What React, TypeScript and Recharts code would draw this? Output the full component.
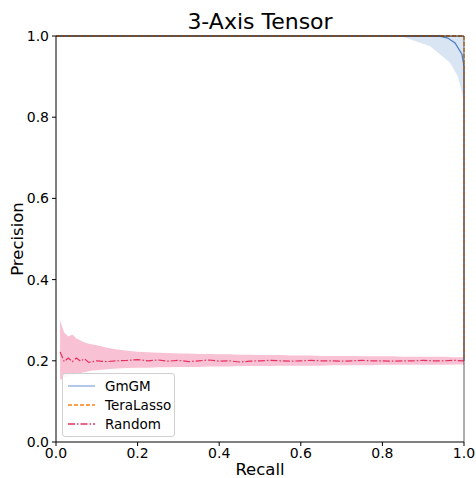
import React from 'react';
import {
  ComposedChart,
  Line,
  Area,
  XAxis,
  YAxis,
  ReferenceLine,
  Legend,
} from 'recharts';

// GmGM mean curve
const gmgmRecall = [0, 0.2, 0.4, 0.6, 0.8, 0.9, 0.94, 0.96, 0.978, 0.995, 1.0, 1.0];
const gmgmPrecision = [1, 1, 1, 1, 1, 1, 1, 0.995, 0.983, 0.955, 0.926, 0.2];
// GmGM band
const gmgmBandRecall = [0, 0.8, 0.85, 0.917, 0.966, 0.985, 0.995, 1.0];
const gmgmBandLow = [1, 1, 0.998, 0.975, 0.934, 0.9, 0.86, 0.84];
const gmgmBandHigh = [1, 1, 1, 1, 1, 1, 1, 1];

// TeraLasso
const teraRecall = [0, 1, 1];
const teraPrecision = [1, 1, 0.2];

// Random baseline
const randomRecall = [
  0.01, 0.02, 0.03, 0.04, 0.05, 0.06, 0.07, 0.08, 0.09, 0.1, 0.125, 0.15, 0.175, 0.2,
  0.225, 0.25, 0.275, 0.3, 0.325, 0.35, 0.375, 0.4, 0.425, 0.45, 0.475, 0.5, 0.525,
  0.55, 0.575, 0.6, 0.625, 0.65, 0.675, 0.7, 0.725, 0.75, 0.775, 0.8, 0.825, 0.85,
  0.875, 0.9, 0.925, 0.95, 0.975, 1.0,
];
const randomPrecision = [
  0.222, 0.198, 0.207, 0.198, 0.207, 0.199, 0.205, 0.196, 0.198, 0.2, 0.198, 0.2, 0.201,
  0.203, 0.2, 0.202, 0.199, 0.201, 0.198, 0.2, 0.202, 0.199, 0.2, 0.197, 0.199, 0.2,
  0.201, 0.2, 0.199, 0.2, 0.201, 0.2, 0.2, 0.199, 0.2, 0.201, 0.2, 0.2, 0.199, 0.2,
  0.2, 0.201, 0.2, 0.2, 0.201, 0.2,
];
const randomLow = [
  0.153, 0.158, 0.162, 0.165, 0.168, 0.17, 0.172, 0.174, 0.176, 0.177, 0.179, 0.181,
  0.182, 0.183, 0.183, 0.184, 0.184, 0.185, 0.185, 0.185, 0.186, 0.186, 0.186, 0.187,
  0.187, 0.187, 0.187, 0.188, 0.188, 0.188, 0.188, 0.188, 0.189, 0.189, 0.189, 0.189,
  0.189, 0.19, 0.19, 0.19, 0.19, 0.19, 0.19, 0.19, 0.191, 0.191,
];
const randomHigh = [
  0.3, 0.27, 0.26, 0.265, 0.255, 0.25, 0.245, 0.242, 0.24, 0.238, 0.232, 0.228, 0.225,
  0.222, 0.221, 0.22, 0.219, 0.218, 0.218, 0.217, 0.217, 0.216, 0.216, 0.215, 0.215,
  0.214, 0.214, 0.214, 0.213, 0.213, 0.213, 0.212, 0.212, 0.212, 0.212, 0.211, 0.211,
  0.211, 0.211, 0.21, 0.21, 0.21, 0.21, 0.21, 0.209, 0.209,
];

const ticks = [0, 0.2, 0.4, 0.6, 0.8, 1.0];

const gmgmData = gmgmRecall.map((x, i) => ({ x, y: gmgmPrecision[i] }));
const gmgmBand = gmgmBandRecall.map((x, i) => ({ x, range: [gmgmBandLow[i], gmgmBandHigh[i]] }));
const teraData = teraRecall.map((x, i) => ({ x, y: teraPrecision[i] }));
const randomData = randomRecall.map((x, i) => ({ x, y: randomPrecision[i] }));
const randomBand = randomRecall.map((x, i) => ({ x, range: [randomLow[i], randomHigh[i]] }));

const FONT = '"DejaVu Sans", sans-serif';
const BLUE = '#4f7fc6';
const ORANGE = '#ff7f0e';
const PINK = '#e8305f';

const legendItems = [
  { name: 'GmGM', color: '#8aa9dc', dash: undefined },
  { name: 'TeraLasso', color: ORANGE, dash: '4 2' },
  { name: 'Random', color: PINK, dash: '7 2 1.5 2' },
];

const LegendBox = () => (
  <div
    style={{
      border: '1px solid #d0d0d0',
      borderRadius: 3,
      background: 'rgba(255,255,255,0.85)',
      padding: '2px 0',
      fontFamily: FONT,
      fontSize: 13.5,
      boxSizing: 'border-box',
      width: 113,
      height: 64,
    }}
  >
    {legendItems.map((it) => (
      <div key={it.name} style={{ display: 'flex', alignItems: 'center', height: 19 }}>
        <svg width={42} height={10}>
          <line x1={5} x2={32} y1={5} y2={5} stroke={it.color} strokeWidth={1.3} strokeDasharray={it.dash} />
        </svg>
        <span>{it.name}</span>
      </div>
    ))}
  </div>
);

export default function App() {
  return (
    <div style={{ position: 'absolute', left: 0, top: 0, width: 476, height: 478, background: '#fff' }}>
      <div
        style={{
          position: 'absolute',
          left: 56,
          width: 408,
          top: 7,
          textAlign: 'center',
          fontFamily: FONT,
          fontSize: 22,
          lineHeight: '30px',
        }}
      >
        3-Axis Tensor
      </div>
      <ComposedChart width={476} height={478} margin={{ top: 36, right: 12, bottom: 0, left: 0 }}>
        <XAxis
          dataKey="x"
          type="number"
          domain={[0, 1]}
          ticks={ticks}
          allowDuplicatedCategory={false}
          height={36}
          tickSize={4}
          tickMargin={2}
          tickFormatter={(v: number) => v.toFixed(1)}
          tick={{ fill: '#000', fontSize: 14, fontFamily: FONT }}
          axisLine={{ stroke: '#000', strokeWidth: 1 }}
          tickLine={{ stroke: '#000' }}
          label={(props: any) => {
            const vb = props.viewBox;
            return (
              <text x={vb.x + vb.width / 2} y={475} textAnchor="middle" fontSize={16.5} fontFamily={FONT} fill="#000">
                Recall
              </text>
            );
          }}
        />
        <YAxis
          type="number"
          domain={[0, 1]}
          ticks={ticks}
          width={56}
          tickSize={4}
          tickMargin={3}
          tickFormatter={(v: number) => v.toFixed(1)}
          tick={{ fill: '#000', fontSize: 14, fontFamily: FONT }}
          axisLine={{ stroke: '#000', strokeWidth: 1 }}
          tickLine={{ stroke: '#000' }}
          label={(props: any) => {
            const vb = props.viewBox;
            const cy = vb.y + vb.height / 2;
            return (
              <text
                x={23}
                y={cy}
                transform={`rotate(-90, 23, ${cy})`}
                textAnchor="middle"
                fontSize={16.5}
                fontFamily={FONT}
                fill="#000"
              >
                Precision
              </text>
            );
          }}
        />
        <Area
          data={gmgmBand}
          dataKey="range"
          type="linear"
          stroke="none"
          fill="#b6cbea"
          fillOpacity={0.5}
          isAnimationActive={false}
        />
        <Area
          data={randomBand}
          dataKey="range"
          type="linear"
          stroke="none"
          fill="#f7b6cc"
          fillOpacity={0.85}
          isAnimationActive={false}
        />
        <Line
          data={gmgmData}
          dataKey="y"
          type="linear"
          stroke={BLUE}
          strokeWidth={1.3}
          dot={false}
          isAnimationActive={false}
        />
        <Line
          data={teraData}
          dataKey="y"
          type="linear"
          stroke={ORANGE}
          strokeWidth={1.3}
          strokeDasharray="4 2"
          dot={false}
          isAnimationActive={false}
        />
        <Line
          data={randomData}
          dataKey="y"
          type="linear"
          stroke={PINK}
          strokeWidth={1.2}
          strokeDasharray="7 2 1.5 2"
          dot={false}
          isAnimationActive={false}
        />
        <ReferenceLine y={1} stroke="#111" strokeWidth={1} />
        <ReferenceLine x={1} stroke="#333" strokeWidth={0.8} />
        <Legend
          layout="horizontal"
          align="center"
          verticalAlign="middle"
          wrapperStyle={{ position: 'absolute', left: 62, top: 373, width: 113, height: 64 }}
          content={() => <LegendBox />}
        />
      </ComposedChart>
    </div>
  );
}
